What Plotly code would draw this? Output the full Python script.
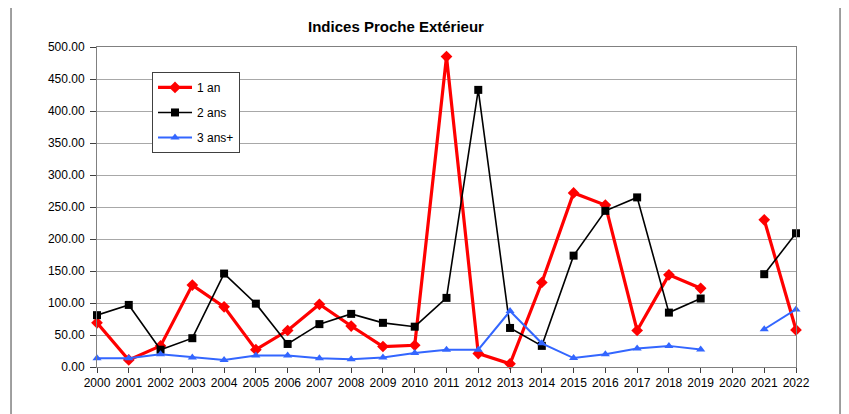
import plotly.graph_objects as go

years = list(range(2000, 2023))
un_an = [69, 11, 33, 128, 94, 27, 57, 98, 64, 32, 34, 485, 21, 5, 132, 272, 253, 57, 144, 123, None, 230, 58]
deux_ans = [81, 97, 27, 45, 146, 99, 36, 67, 83, 69, 63, 108, 433, 61, 33, 174, 244, 265, 85, 107, None, 145, 209]
trois_ans = [13.5, 13.5, 20, 15, 11, 18, 18, 13.5, 12, 15, 22, 27, 27, 87.5, 37, 14, 20, 29, 33, 27.5, None, 59, 90]

fig = go.Figure()
fig.add_trace(go.Scatter(x=years, y=un_an, name="1 an", mode="lines+markers", legendgroup="a",
                         line=dict(color="#ff0000", width=3.2),
                         marker=dict(symbol="diamond", size=9, color="#ff0000"),
                         connectgaps=False, cliponaxis=False))
fig.add_trace(go.Scatter(x=years, y=deux_ans, name="2 ans", mode="lines+markers", legendgroup="b",
                         line=dict(color="#000000", width=1.6),
                         marker=dict(symbol="square", size=8, color="#000000"),
                         connectgaps=False, cliponaxis=False))
fig.add_trace(go.Scatter(x=years, y=trois_ans, name="3 ans+", mode="lines+markers", legendgroup="c",
                         line=dict(color="#3366ff", width=2),
                         marker=dict(symbol="triangle-up", size=8, color="#3366ff"),
                         connectgaps=False, cliponaxis=False))

# outer frame
fig.add_shape(type="rect", xref="paper", yref="paper",
              x0=-0.123, x1=1.063, y0=-0.2, y1=1.134,
              line=dict(color="#808080", width=1.5), layer="below")

fig.update_layout(
    width=849, height=414,
    margin=dict(l=89, r=61, t=39, b=55),
    paper_bgcolor="white", plot_bgcolor="white",
    font=dict(family="Liberation Sans, Arial, sans-serif", size=12, color="#000000"),
    title=dict(text="<b>Indices Proche Extérieur</b>", x=0.457, xanchor="center",
               y=0.954, yanchor="middle", font=dict(size=15)),
    showlegend=True,
    legend=dict(x=0.0787, y=0.922, xanchor="left", yanchor="top",
                bgcolor="white", bordercolor="#404040", borderwidth=1,
                font=dict(size=12), itemwidth=34, tracegroupgap=6,
                traceorder="grouped", entrywidth=73, entrywidthmode="pixels"),
    xaxis=dict(range=[2000, 2022], tickmode="array", tickvals=years,
               ticktext=[str(y) for y in years],
               showgrid=False, zeroline=False, showline=True, linecolor="#808080",
               linewidth=1, mirror=True, ticks="outside", ticklen=5, tickcolor="#404040",
               tickfont=dict(size=12)),
    yaxis=dict(range=[0, 500], dtick=50, tickformat=".2f",
               showgrid=True, gridcolor="#a8a8a8", gridwidth=1, zeroline=False,
               showline=True, linecolor="#808080", linewidth=1, mirror=True,
               ticks="outside", ticklen=6, tickcolor="#404040", ticklabelstandoff=3,
               tickfont=dict(size=12)),
)

fig.write_html("out.html")
